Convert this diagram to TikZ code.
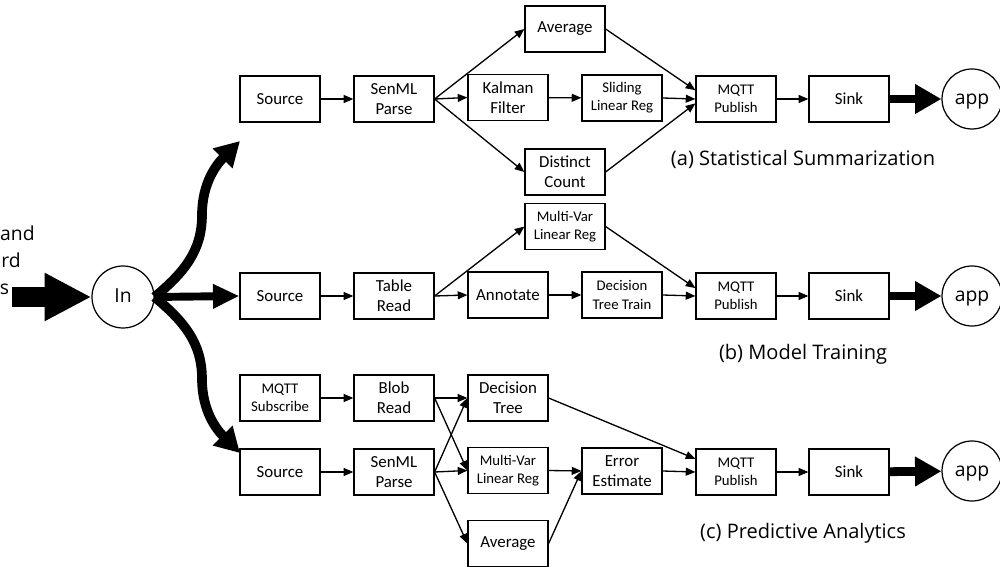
\documentclass[tikz,border=0pt]{standalone}
\usepackage{fontspec}
\setmainfont{Carlito}
\newfontfamily\capfont{Open Sans}
\usetikzlibrary{arrows.meta}

\begin{document}
\begin{tikzpicture}[x=0.02cm,y=-0.02cm,
  box/.style={draw,line width=0.7pt,minimum width=1.6cm,minimum height=0.92cm,
    inner sep=0pt,align=center,font=\fontsize{9.6}{11.3}\selectfont},
  sbox/.style={box,font=\fontsize{8.4}{10.4}\selectfont},
  circ/.style={draw,circle,line width=0.7pt,minimum size=1.2cm,inner sep=0pt,
    text height=1.5ex,text depth=0.3ex,
    font=\capfont\fontsize{11}{13}\selectfont},
  flow/.style={line width=0.75pt,-{Triangle[length=5.5pt,width=4.5pt]}},
  caption/.style={font=\capfont\fontsize{11.4}{13}\selectfont},
  fat/.style={line width=5pt,-{Triangle[length=15pt,width=16pt]}},
  branch/.style={line width=5.5pt,-{Triangle[length=14pt,width=15pt]}},
  frag/.style={anchor=base east,inner sep=0pt,font=\capfont\fontsize{11}{13}\selectfont},
]
\useasboundingbox (0,0) rectangle (1000,567);

% incoming streams and the fan-out node
\node[frag] (t1) at (35,241) {and};
\node[frag] (t2) at (21,268) {rd};
\node[frag] (t3) at (9.5,295) {s};
\coordinate (feed) at (12,297);
\node[circ,minimum size=1.24cm] (in) at (123,297) {In};

% (a) statistical summarization
\node[box]  (srcA) at (280,99)  {Source};
\node[box]  (senA) at (394,99)  {SenML\\Parse};
\node[box]  (avgA) at (565,29)  {Average};
\node[box]  (kalA) at (508,97.5) {Kalman\\Filter};
\node[box]  (disA) at (565,172) {Distinct\\Count};
\node[sbox] (sliA) at (622,98)  {Sliding\\Linear Reg};
\node[sbox] (mqA)  at (736,99)  {MQTT\\Publish};
\node[box]  (snkA) at (849,99)  {Sink};
\node[circ] (appA) at (972,99)  {app};
\node[caption] (capA) at (803,159) {(a) Statistical Summarization};

% (b) model training
\node[box]  (srcB) at (280,296) {Source};
\node[box]  (tabB) at (394,296) {Table\\Read};
\node[sbox] (mvB)  at (565,226.5) {Multi-Var\\Linear Reg};
\node[box]  (annB) at (508,295) {Annotate};
\node[sbox] (dtB)  at (622,295) {Decision\\Tree Train};
\node[sbox] (mqB)  at (736,296) {MQTT\\Publish};
\node[box]  (snkB) at (849,296) {Sink};
\node[circ] (appB) at (972,296) {app};
\node[caption] (capB) at (803,354) {(b) Model Training};

% (c) predictive analytics
\node[sbox] (subC) at (280,398) {MQTT\\Subscribe};
\node[box]  (blbC) at (394,398) {Blob\\Read};
\node[box]  (dtC)  at (508,398) {Decision\\Tree};
\node[box]  (srcC) at (280,472) {Source};
\node[box]  (senC) at (394,472) {SenML\\Parse};
\node[sbox] (mvC)  at (508,470.5) {Multi-Var\\Linear Reg};
\node[box]  (avgC) at (508,543.5) {Average};
\node[box]  (errC) at (622,471) {Error\\Estimate};
\node[sbox] (mqC)  at (736,472) {MQTT\\Publish};
\node[box]  (snkC) at (849,472) {Sink};
\node[circ] (appC) at (972,471) {app};
\node[caption] (capC) at (803,533) {(c) Predictive Analytics};

% heavy arrows
\draw[line width=11pt,-{Triangle[length=26.6pt,width=25.5pt]}] (feed) -- (in.west);
\draw[branch] (in.east) to[out=40,in=-90] (202,215) to[out=90,in=-135] (240,141);
\draw[line width=4.5pt,-{Triangle[length=15pt,width=13pt]}] (in.east) -- (srcB.west);
\draw[branch] (in.east) to[out=-40,in=90] (202,379) to[out=-90,in=135] (240,453);
\draw[fat] (snkA) -- (appA);
\draw[fat] (snkB) -- (appB);
\draw[fat] (snkC) -- (appC);

% (a) flows
\draw[flow] (srcA) -- (senA);
\draw[flow] (senA.east) -- (avgA.west);
\draw[flow] (senA.east) -- (kalA.west);
\draw[flow] (senA.east) -- (disA.west);
\draw[flow] (kalA) -- (sliA);
\draw[flow] (avgA.east) -- ([yshift=5pt]mqA.west);
\draw[flow] (sliA.east) -- (mqA.west);
\draw[flow] (disA.east) -- ([yshift=-2.5pt]mqA.west);
\draw[flow] (mqA) -- (snkA);

% (b) flows
\draw[flow] (srcB) -- (tabB);
\draw[flow] (tabB.east) -- (mvB.west);
\draw[flow] (tabB.east) -- (annB.west);
\draw[flow] (annB) -- (dtB);
\draw[flow] (mvB.east) -- ([yshift=4.5pt]mqB.west);
\draw[flow] (dtB.east) -- (mqB.west);
\draw[flow] (mqB) -- (snkB);

% (c) flows
\draw[flow] (subC) -- (blbC);
\draw[flow] (srcC) -- (senC);
\draw[flow] (blbC.east) -- (dtC.west);
\draw[flow] (blbC.east) -- (mvC.west);
\draw[flow] (senC.east) -- (dtC.west);
\draw[flow] (senC.east) -- (mvC.west);
\draw[flow] (senC.east) -- (avgC.west);
\draw[flow] (mvC.east) -- (errC.west);
\draw[flow] (avgC.east) -- (errC.west);
\draw[flow] (dtC.east) -- ([yshift=7.5pt]mqC.west);
\draw[flow] (errC.east) -- (mqC.west);
\draw[flow] (mqC) -- (snkC);
\end{tikzpicture}
\end{document}
